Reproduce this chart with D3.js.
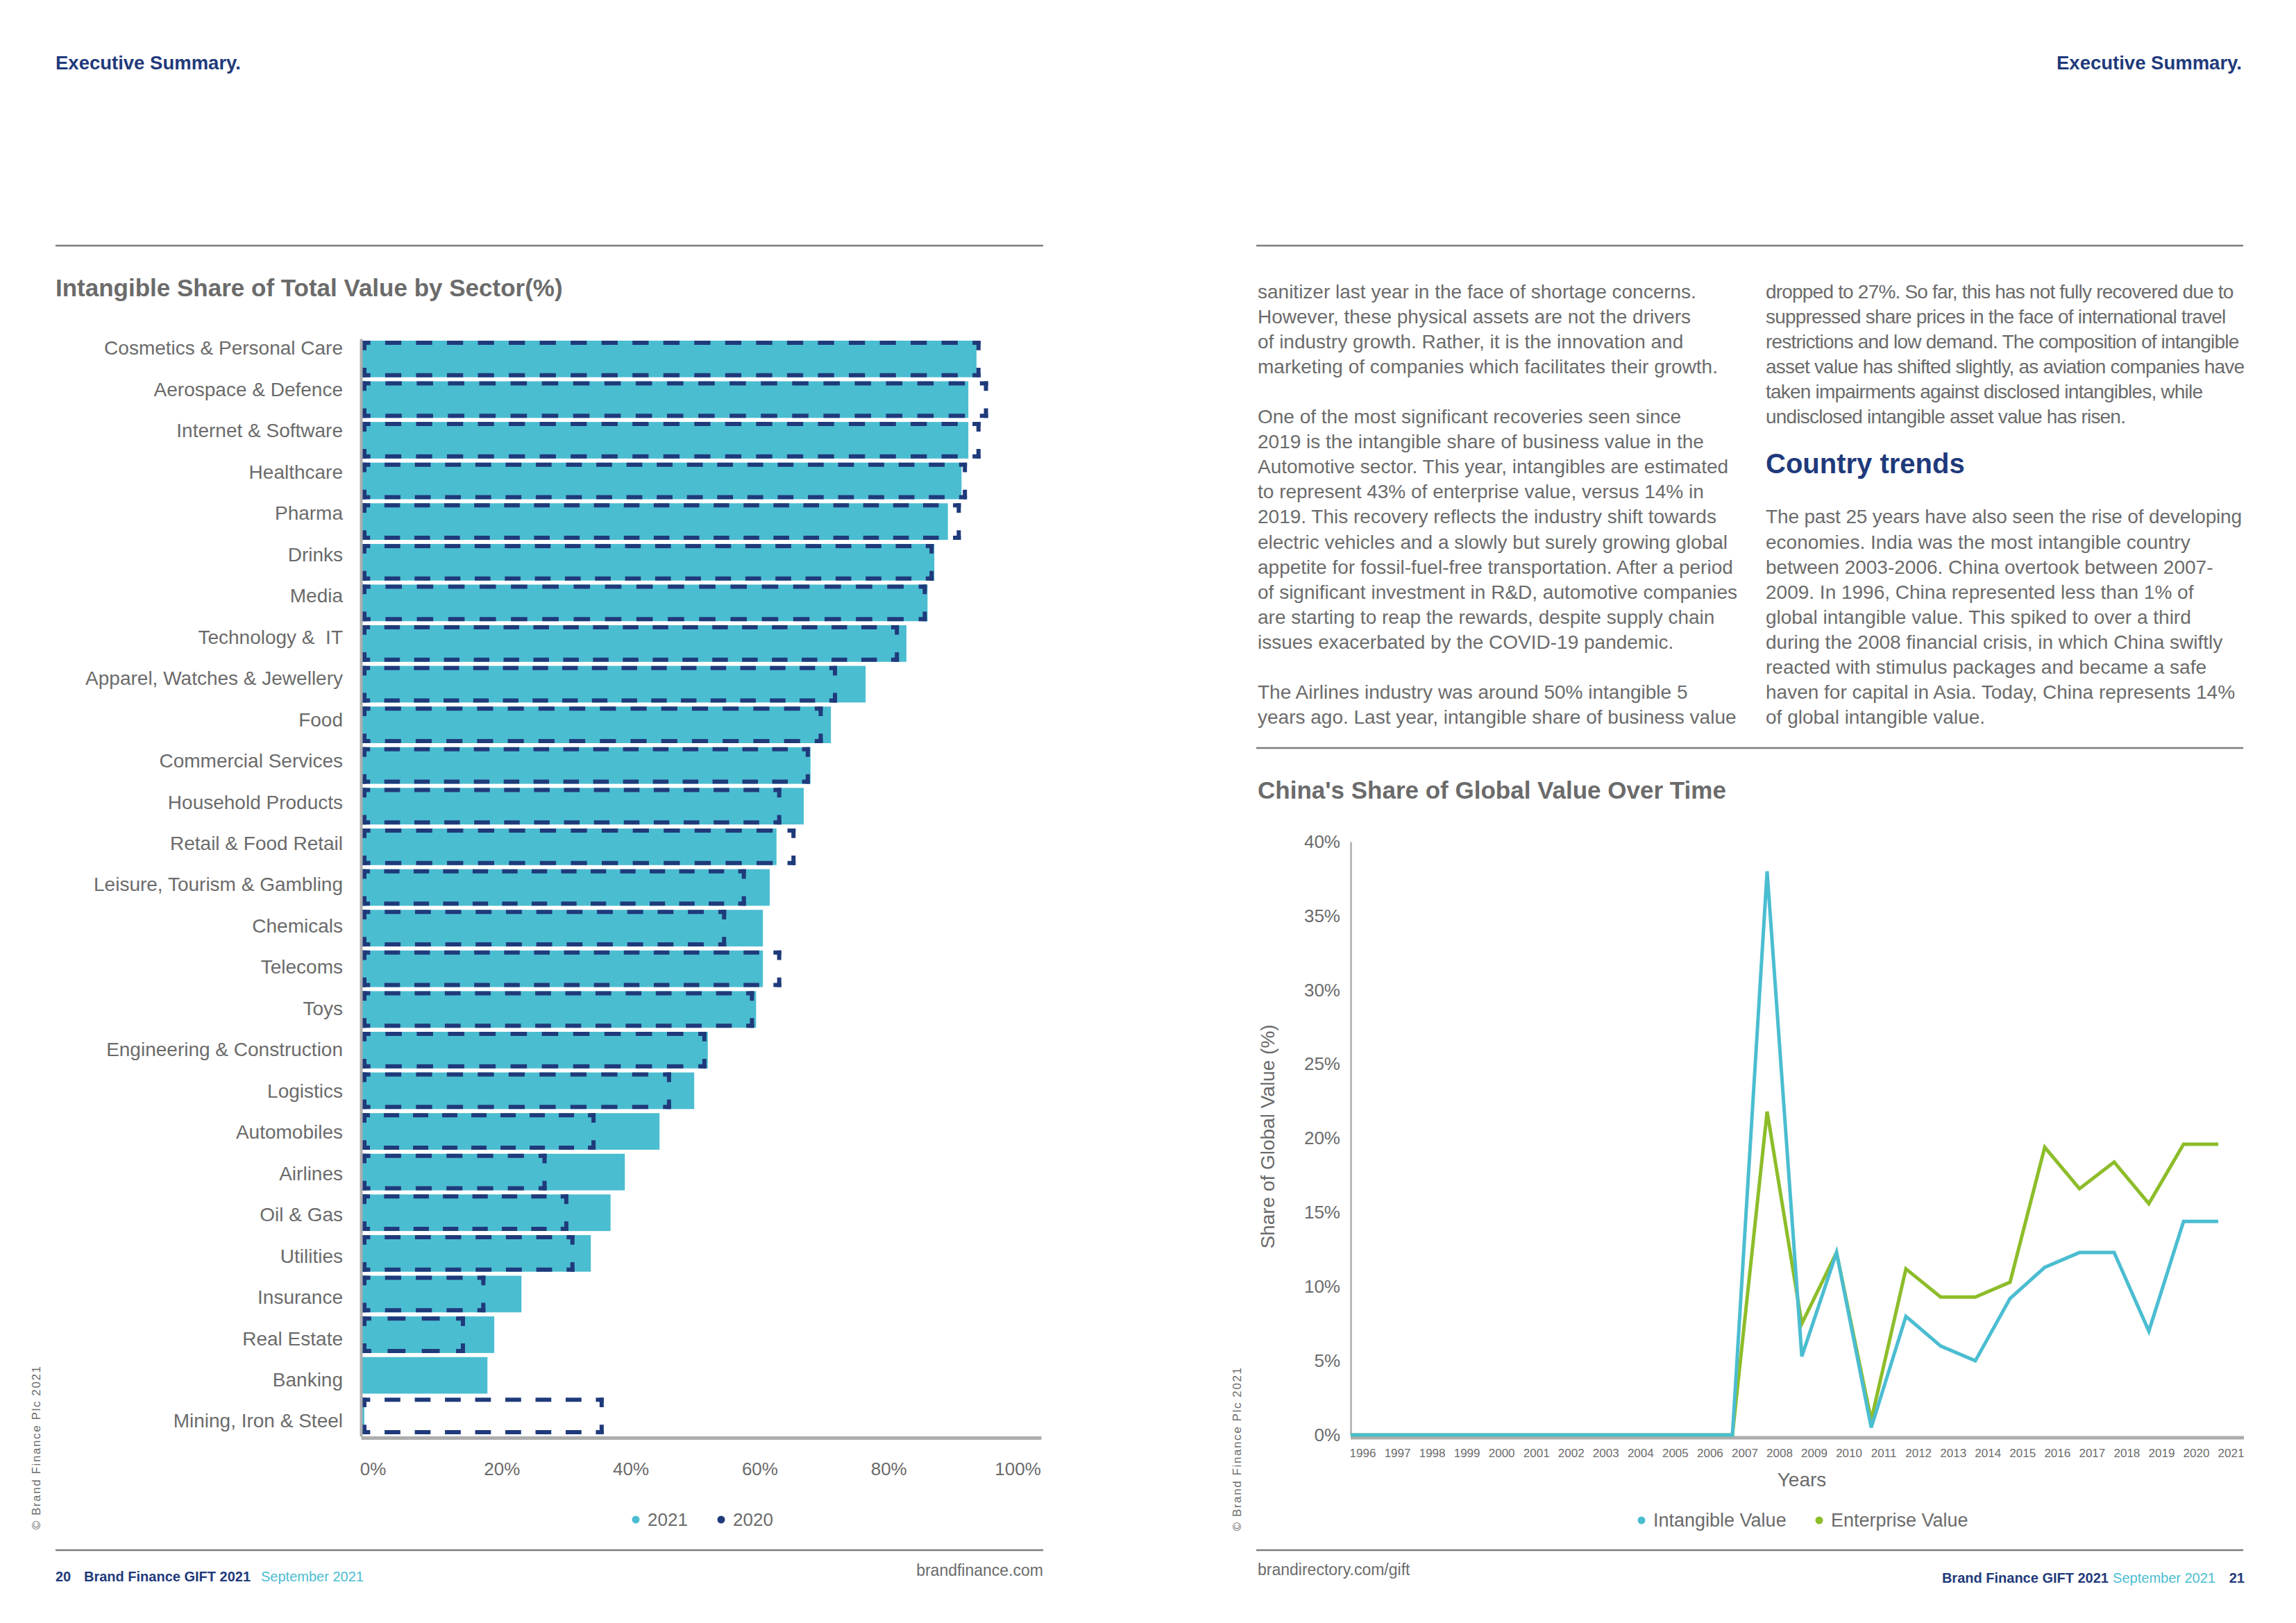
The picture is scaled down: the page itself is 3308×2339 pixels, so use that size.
<!DOCTYPE html>
<html>
<head>
<meta charset="utf-8">
<script src="https://cdn.jsdelivr.net/npm/d3@7"></script>
<style>
  body { margin: 0; background: #fff; }
  svg { display: block; font-family: "Liberation Sans", Arial, sans-serif; }
</style>
</head>
<body>
<svg id="page" width="3308" height="2339"></svg>
<script>
// ---- bar chart data (intangible share of total value, %) ----
const sectors = [
  'Cosmetics & Personal Care', 'Aerospace & Defence', 'Internet & Software', 'Healthcare',
  'Pharma', 'Drinks', 'Media', 'Technology &\u00A0 IT', 'Apparel, Watches & Jewellery', 'Food',
  'Commercial Services', 'Household Products', 'Retail & Food Retail', 'Leisure, Tourism & Gambling',
  'Chemicals', 'Telecoms', 'Toys', 'Engineering & Construction', 'Logistics', 'Automobiles',
  'Airlines', 'Oil & Gas', 'Utilities', 'Insurance', 'Real Estate', 'Banking', 'Mining, Iron & Steel'
];
const share2021 = [90.5, 89.3, 89.3, 88.3, 86.3, 84.3, 83.3, 80.2, 74.2, 69.1,
  66.1, 65.1, 61.1, 60.1, 59.1, 59.1, 58.1, 51.0, 49.0, 43.9,
  38.8, 36.7, 33.8, 23.6, 19.6, 18.6, 0.5];
const share2020 = [91.1, 92.2, 91.1, 89.1, 88.2, 84.2, 83.2, 79.1, 70.0, 67.9,
  66.0, 61.8, 63.9, 56.6, 53.7, 61.8, 57.8, 50.8, 45.6, 34.5,
  27.3, 30.5, 31.4, 18.3, 15.3, null, 35.7];
const barTicks = [0, 20, 40, 60, 80, 100];

// ---- line chart data (China's share of global value, %) ----
const years = [1996, 1997, 1998, 1999, 2000, 2001, 2002, 2003, 2004, 2005, 2006, 2007, 2008,
  2009, 2010, 2011, 2012, 2013, 2014, 2015, 2016, 2017, 2018, 2019, 2020, 2021];
const intangibleValue = [0, 0, 0, 0, 0, 0, 0, 0, 0, 0, 0, 0, 38.0,
  5.3, 12.3, 0.5, 8.0, 6.0, 5.0, 9.2, 11.3, 12.3, 12.3, 7.0, 14.4, 14.4];
const enterpriseValue = [0, 0, 0, 0, 0, 0, 0, 0, 0, 0, 0, 0, 21.8,
  7.5, 12.3, 1.0, 11.2, 9.3, 9.3, 10.3, 19.4, 16.6, 18.4, 15.6, 19.6, 19.6];
const lineTicks = [0, 5, 10, 15, 20, 25, 30, 35, 40];

const navy = '#1f3a7b', cyan = '#4bbdd1', green = '#8dbd2a', grey = '#6b6b6b', rule = '#7d7d7d', axisGrey = '#adadad';
const font = '"Liberation Sans", Arial, sans-serif';

const svg = d3.select('#page');

// ---------- page furniture ----------
function txt(x, y, s, opts) {
  const t = svg.append('text').attr('x', x).attr('y', y).text(s)
    .attr('font-size', opts.size).attr('fill', opts.fill || grey)
    .attr('font-weight', opts.bold ? 'bold' : 'normal')
    .attr('text-anchor', opts.anchor || 'start');
  if (opts.spacing) t.attr('letter-spacing', opts.spacing);
  return t;
}
function hline(x1, x2, y) {
  svg.append('line').attr('x1', x1).attr('x2', x2).attr('y1', y).attr('y2', y)
    .attr('stroke', rule).attr('stroke-width', 2.5);
}

txt(80, 100, 'Executive Summary.', { size: 27.5, bold: true, fill: navy });
txt(3230, 100, 'Executive Summary.', { size: 27.5, bold: true, fill: navy, anchor: 'end' });
hline(80, 1503, 354);
hline(1810, 3232, 354);
hline(1810, 3232, 1078);
hline(80, 1503, 2234);
hline(1810, 3232, 2234);

// footers
txt(80, 2279, '20', { size: 20, bold: true, fill: navy });
txt(121, 2279, 'Brand Finance GIFT 2021', { size: 20, bold: true, fill: navy });
txt(376, 2279, 'September 2021', { size: 20, fill: cyan });
txt(1503, 2271, 'brandfinance.com', { size: 23, anchor: 'end' });
txt(1812, 2270, 'brandirectory.com/gift', { size: 23 });
txt(3038, 2281, 'Brand Finance GIFT 2021', { size: 20, bold: true, fill: navy, anchor: 'end' });
txt(3192, 2281, 'September 2021', { size: 20, fill: cyan, anchor: 'end' });
txt(3234, 2281, '21', { size: 20, bold: true, fill: navy, anchor: 'end' });

// vertical copyright notes
[[58, 2086], [1788, 2088]].forEach(p => {
  svg.append('text').attr('transform', `translate(${p[0]},${p[1]}) rotate(-90)`)
    .attr('text-anchor', 'middle').attr('font-size', 17).attr('letter-spacing', 1.6)
    .attr('fill', grey).text('\u00A9  Brand Finance Plc 2021');
});

// ---------- right page body text ----------
const colA = [
  'sanitizer last year in the face of shortage concerns.',
  'However, these physical assets are not the drivers',
  'of industry growth. Rather, it is the innovation and',
  'marketing of companies which facilitates their growth.',
  '',
  'One of the most significant recoveries seen since',
  '2019 is the intangible share of business value in the',
  'Automotive sector. This year, intangibles are estimated',
  'to represent 43% of enterprise value, versus 14% in',
  '2019. This recovery reflects the industry shift towards',
  'electric vehicles and a slowly but surely growing global',
  'appetite for fossil-fuel-free transportation. After a period',
  'of significant investment in R&D, automotive companies',
  'are starting to reap the rewards, despite supply chain',
  'issues exacerbated by the COVID-19 pandemic.',
  '',
  'The Airlines industry was around 50% intangible 5',
  'years ago. Last year, intangible share of business value'
];
const colB = [
  'dropped to 27%. So far, this has not fully recovered due to',
  'suppressed share prices in the face of international travel',
  'restrictions and low demand. The composition of intangible',
  'asset value has shifted slightly, as aviation companies have',
  'taken impairments against disclosed intangibles, while',
  'undisclosed intangible asset value has risen.',
  '', '', '',
  'The past 25 years have also seen the rise of developing',
  'economies. India was the most intangible country',
  'between 2003-2006. China overtook between 2007-',
  '2009. In 1996, China represented less than 1% of',
  'global intangible value. This spiked to over a third',
  'during the 2008 financial crisis, in which China swiftly',
  'reacted with stimulus packages and became a safe',
  'haven for capital in Asia. Today, China represents 14%',
  'of global intangible value.'
];
const lineY = d3.scaleLinear().domain([0, 1]).range([430, 430 + 36.05]);
[[1812, colA, 0], [2544, colB, 6]].forEach(([cx, lines, tight]) => {
  svg.append('g').selectAll('text').data(lines).join('text')
    .attr('x', cx).attr('y', (d, i) => lineY(i))
    .attr('letter-spacing', (d, i) => i < tight ? -0.8 : (cx > 2000 && i === 9 ? -0.15 : 0))
    .attr('font-size', 28).attr('fill', grey).text(d => d);
});
txt(2544, 682, 'Country trends', { size: 40, bold: true, fill: navy });

// ---------- bar chart ----------
txt(80, 427, 'Intangible Share of Total Value by Sector(%)', { size: 35, bold: true });

const x = d3.scaleLinear().domain([0, 100]).range([520, 1500]);
const xLab = d3.scaleLinear().domain([0, 100]).range([537, 1466]);
const y = d3.scaleBand().domain(sectors).range([488, 2070]).paddingInner(0.1).paddingOuter(0.05);
const yLab = d3.scalePoint().domain(sectors).range([502, 2048]);

const bars = svg.append('g');
bars.selectAll('.b21').data(sectors).join('rect').attr('class', 'b21')
  .attr('x', x(0) + 2)
  .attr('y', d => y(d))
  .attr('width', (d, i) => Math.max(0, x(share2021[i]) - x(0) - 2))
  .attr('height', y.bandwidth())
  .attr('fill', cyan);

// 2020 outlines: each side dashed on its own so dashes sit on the corners
const sw = 6, dash = 23, gap = 21;
function dashedSide(g, x1, y1, x2, y2) {
  const L = Math.hypot(x2 - x1, y2 - y1);
  const n = Math.max(1, Math.round(L / (dash + gap)));
  const k = L / (n * (dash + gap));
  g.append('line').attr('x1', x1).attr('y1', y1).attr('x2', x2).attr('y2', y2)
    .attr('stroke', navy).attr('stroke-width', sw)
    .attr('stroke-dasharray', `${dash * k} ${gap * k}`)
    .attr('stroke-dashoffset', dash * k / 2);
}
const prev = sectors.map((s, i) => ({ s, v: share2020[i] })).filter(d => d.v != null);
bars.selectAll('.b20').data(prev).join('g').attr('class', 'b20')
  .each(function (d) {
    const g = d3.select(this);
    const l = x(0) + 2 + sw / 2, r = x(d.v) - sw / 2;
    const t = y(d.s) + sw / 2, b = y(d.s) + y.bandwidth() - sw / 2;
    const h = sw / 2;
    dashedSide(g, l - h, t, r + h, t);
    dashedSide(g, r, t - h, r, b + h);
    dashedSide(g, r + h, b, l - h, b);
    dashedSide(g, l, b + h, l, t - h);
  });

// left axis line
svg.append('g').attr('transform', `translate(${x(0)},0)`)
  .call(d3.axisLeft(y).tickSize(0).tickSizeOuter(0).tickFormat(''))
  .call(g => g.select('.domain').attr('stroke', axisGrey).attr('stroke-width', 4));

// category labels
svg.append('g').attr('transform', 'translate(504,0)')
  .call(d3.axisLeft(yLab).tickSize(0).tickPadding(10))
  .call(g => g.select('.domain').remove())
  .call(g => g.selectAll('text').attr('font-size', 28).attr('fill', grey).attr('font-family', font));

// bottom axis line + labels
svg.append('g').attr('transform', 'translate(0,2072)')
  .call(d3.axisBottom(x).tickValues([]).tickSizeOuter(0))
  .call(g => g.select('.domain').attr('stroke', axisGrey).attr('stroke-width', 5));
svg.append('g').attr('transform', 'translate(0,2072)')
  .call(d3.axisBottom(xLab).tickValues(barTicks).tickSize(0).tickPadding(36).tickFormat(d => d + '%'))
  .call(g => g.select('.domain').remove())
  .call(g => g.selectAll('text').attr('font-size', 26).attr('fill', grey).attr('font-family', font));

// bar legend
const barLegend = [{ label: '2021', color: cyan, x: 916 }, { label: '2020', color: navy, x: 1039 }];
barLegend.forEach(l => {
  svg.append('circle').attr('cx', l.x).attr('cy', 2190).attr('r', 5.5).attr('fill', l.color);
  txt(l.x + 17, 2199, l.label, { size: 26 });
});

// ---------- line chart ----------
txt(1812, 1151, "China's Share of Global Value Over Time", { size: 35, bold: true });

const lx = d3.scaleLinear().domain([1996, 2021]).range([1946, 3196]);
const lxLab = d3.scalePoint().domain(years).range([1963, 3214]);
const ly = d3.scaleLinear().domain([0, 40]).range([2068, 1213]);

svg.append('g').attr('transform', 'translate(1946,0)')
  .call(d3.axisLeft(ly).tickValues(lineTicks).tickSize(0).tickPadding(15).tickFormat(d => d + '%'))
  .call(g => g.select('.domain').attr('stroke', axisGrey).attr('stroke-width', 2.5))
  .call(g => g.selectAll('text').attr('font-size', 26).attr('fill', grey).attr('font-family', font));

svg.append('line').attr('x1', 1946).attr('x2', 3233).attr('y1', 2072).attr('y2', 2072)
  .attr('stroke', axisGrey).attr('stroke-width', 5);

svg.append('g').attr('transform', 'translate(0,2072)')
  .call(d3.axisBottom(lxLab).tickSize(0).tickPadding(16))
  .call(g => g.select('.domain').remove())
  .call(g => g.selectAll('text').attr('font-size', 17).attr('fill', grey).attr('font-family', font));

const line = d3.line().x((d, i) => lx(years[i])).y(d => ly(d));
svg.append('path').datum(enterpriseValue).attr('d', line)
  .attr('fill', 'none').attr('stroke', green).attr('stroke-width', 5).attr('stroke-linejoin', 'miter');
svg.append('path').datum(intangibleValue).attr('d', line)
  .attr('fill', 'none').attr('stroke', cyan).attr('stroke-width', 5).attr('stroke-linejoin', 'miter');

svg.append('text').attr('transform', 'translate(1826,1638) rotate(-90)')
  .attr('text-anchor', 'middle').attr('dy', '0.35em').attr('font-size', 28).attr('fill', grey)
  .text('Share of Global Value (%)');
txt(2596, 2142, 'Years', { size: 28, anchor: 'middle' });

const lineLegend = [{ label: 'Intangible Value', color: cyan, x: 2365 }, { label: 'Enterprise Value', color: green, x: 2621 }];
lineLegend.forEach(l => {
  svg.append('circle').attr('cx', l.x).attr('cy', 2191).attr('r', 5.5).attr('fill', l.color);
  txt(l.x + 17, 2200, l.label, { size: 27 });
});
</script>
</body>
</html>
